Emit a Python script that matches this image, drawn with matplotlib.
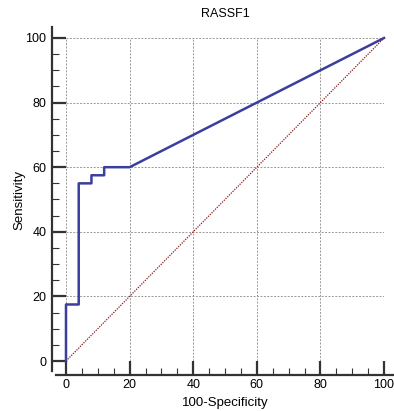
import matplotlib.pyplot as plt
from matplotlib.ticker import MultipleLocator

plt.rcParams["font.family"] = ["Liberation Sans", "DejaVu Sans"]

# ROC curve points (100-Specificity, Sensitivity)
fpr = [0, 0, 4, 4, 8, 8, 12, 12, 20, 100]
tpr = [0, 17.5, 17.5, 55, 55, 57.5, 57.5, 60, 60, 100]
diag = [0, 100]
title = "RASSF1"

fig = plt.figure(figsize=(3.94, 4.11), dpi=100)
ax = fig.add_axes([66 / 394, 50 / 411, 318 / 394, 323 / 411])

ax.plot(diag, diag, color="#8b1a1a", linestyle=(0, (1, 1)), linewidth=0.9,
        clip_on=False, zorder=2)
ax.plot(fpr, tpr, color="#3b3f9c", linewidth=1.8, clip_on=False, zorder=3)

ax.set_xlim(0, 100)
ax.set_ylim(0, 100)
ax.xaxis.set_major_locator(MultipleLocator(20))
ax.yaxis.set_major_locator(MultipleLocator(20))
ax.xaxis.set_minor_locator(MultipleLocator(5))
ax.yaxis.set_minor_locator(MultipleLocator(5))
ax.grid(True, which="major", color="#999999", linestyle=(0, (2, 1.5)),
        linewidth=0.7)
ax.set_axisbelow(True)

for side in ("top", "right"):
    ax.spines[side].set_visible(False)
for side in ("left", "bottom"):
    ax.spines[side].set_position(("outward", 10))
    ax.spines[side].set_linewidth(1.6)
    ax.spines[side].set_color("#333333")
ax.spines["left"].set_bounds(-3.1, 103.3)
ax.spines["bottom"].set_bounds(-3.2, 102.8)

ax.tick_params(which="major", direction="in", length=10, width=1.6,
               color="#333333", labelsize=9, pad=4)
ax.tick_params(which="minor", direction="in", length=5, width=0.8,
               color="#333333")
ax.tick_params(axis="x", pad=3)

ax.set_title(title, fontsize=9, pad=15)
ax.set_xlabel("100-Specificity", fontsize=9.5, labelpad=4)
ax.set_ylabel("Sensitivity", fontsize=9.5, labelpad=0)

fig.savefig("out.png", dpi=100)
